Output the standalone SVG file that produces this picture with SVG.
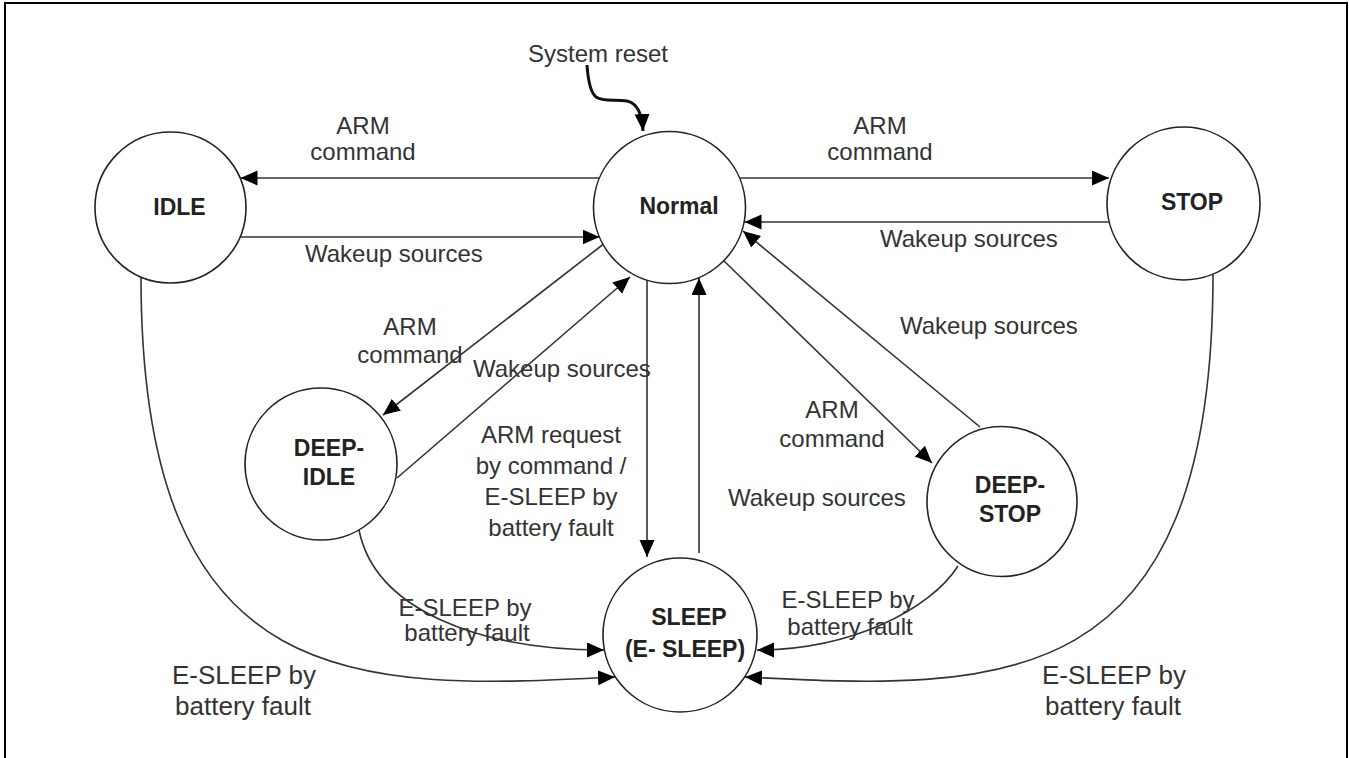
<svg xmlns="http://www.w3.org/2000/svg" width="1349" height="758" viewBox="0 0 1349 758">
  <style>
    .frame { fill: none; stroke: #000; stroke-width: 2; }
    .state { fill: #fff; stroke: #222; stroke-width: 1.6; }
    .name { font-family: "Liberation Sans", Arial, sans-serif; font-weight: bold; font-size: 23px; fill: #222; text-anchor: middle; }
    .lbl { font-family: "Liberation Sans", Arial, sans-serif; font-size: 24px; fill: #333; }
    .lbl-big { font-family: "Liberation Sans", Arial, sans-serif; font-size: 26px; fill: #333; text-anchor: middle; }
    .mid { text-anchor: middle; }
    .edge { fill: none; stroke: #333; stroke-width: 1.6; marker-end: url(#arrow); }
    .edge-plain { fill: none; stroke: #333; stroke-width: 1.6; }
  </style>
  <defs>
    <marker id="arrow" markerUnits="userSpaceOnUse" markerWidth="18" markerHeight="16" refX="17" refY="7.5" orient="auto">
      <path d="M0,0 L17,7.5 L0,15 z" fill="#000"/>
    </marker>
  </defs>

  <rect width="1349" height="758" fill="#fff"/>
  <rect class="frame" x="5" y="3" width="1342" height="800"/>

  <!-- transitions -->
  <g id="connectors">
    <!-- reset entry -->
    <path d="M587,65 C588,80 590,92 596,97 C603,102 615,99 627,101 C637,103 642,112 643,131" fill="none" stroke="#111" stroke-width="3" marker-end="url(#arrow)"/>
    <!-- Normal <-> IDLE -->
    <path class="edge" d="M599.5,178 L240.5,178"/>
    <path class="edge" d="M240.5,237 L599.5,237"/>
    <!-- Normal <-> STOP -->
    <path class="edge" d="M739.5,178 L1109,178"/>
    <path class="edge" d="M1109,222 L744.5,222"/>
    <!-- Normal <-> DEEP-IDLE -->
    <path class="edge" d="M603,244.5 L383,415"/>
    <path class="edge" d="M397,478 L630,277"/>
    <!-- Normal <-> SLEEP -->
    <path class="edge" d="M647,280 L647,557" stroke="#000" stroke-width="2"/>
    <path class="edge" d="M699,553 L699,278" stroke="#555" stroke-width="2"/>
    <!-- Normal <-> DEEP-STOP -->
    <path class="edge" d="M723,260 L932,463"/>
    <path class="edge" d="M980,427 L743,231"/>
    <!-- battery-fault paths into SLEEP -->
    <path class="edge" d="M141,277 C141,700 360,690 615,677"/>
    <path class="edge" d="M1213,274 C1213,700 1000,690 745,677"/>
    <path class="edge" d="M359,530 C375,610 480,650 604,650"/>
    <path class="edge" d="M958,566 C930,610 850,650 757,650"/>
  </g>

  <!-- transition labels -->
  <g id="labels">
    <text class="lbl mid" x="598" y="62">System reset</text>
    <text class="lbl mid" x="363" y="134">ARM</text>
    <text class="lbl mid" x="363" y="160">command</text>
    <text class="lbl" x="305" y="262">Wakeup sources</text>
    <text class="lbl mid" x="880" y="134">ARM</text>
    <text class="lbl mid" x="880" y="160">command</text>
    <text class="lbl" x="880" y="247">Wakeup sources</text>
    <text class="lbl mid" x="410" y="335">ARM</text>
    <text class="lbl mid" x="410" y="363">command</text>
    <text class="lbl" x="473" y="377">Wakeup sources</text>
    <text class="lbl mid" x="551" y="443">ARM request</text>
    <text class="lbl mid" x="551" y="474">by command /</text>
    <text class="lbl mid" x="551" y="505">E-SLEEP by</text>
    <text class="lbl mid" x="551" y="536">battery fault</text>
    <text class="lbl mid" x="832" y="418">ARM</text>
    <text class="lbl mid" x="832" y="447">command</text>
    <text class="lbl" x="900" y="334">Wakeup sources</text>
    <text class="lbl" x="728" y="506">Wakeup sources</text>
    <text class="lbl mid" x="465" y="616">E-SLEEP by</text>
    <text class="lbl mid" x="467" y="641">battery fault</text>
    <text class="lbl mid" x="848" y="608">E-SLEEP by</text>
    <text class="lbl mid" x="850" y="635">battery fault</text>
    <text class="lbl-big" x="244" y="684">E-SLEEP by</text>
    <text class="lbl-big" x="243" y="715">battery fault</text>
    <text class="lbl-big" x="1114" y="684">E-SLEEP by</text>
    <text class="lbl-big" x="1113" y="715">battery fault</text>
  </g>

  <!-- states -->
  <g id="idle">
    <circle class="state" cx="170.5" cy="207.5" r="75.5"/>
    <text class="name" x="179.5" y="215">IDLE</text>
  </g>
  <g id="normal">
    <circle class="state" cx="669.5" cy="207.5" r="76"/>
    <text class="name" x="679" y="214">Normal</text>
  </g>
  <g id="stop">
    <circle class="state" cx="1183.5" cy="203.5" r="76.5"/>
    <text class="name" x="1192" y="210">STOP</text>
  </g>
  <g id="deep-idle">
    <circle class="state" cx="321" cy="464" r="76"/>
    <text class="name" x="329" y="456">DEEP-</text>
    <text class="name" x="329" y="485">IDLE</text>
  </g>
  <g id="deep-stop">
    <circle class="state" cx="1002" cy="501.5" r="75"/>
    <text class="name" x="1010" y="493">DEEP-</text>
    <text class="name" x="1010" y="522">STOP</text>
  </g>
  <g id="sleep">
    <circle class="state" cx="680" cy="635" r="77"/>
    <text class="name" x="689" y="625">SLEEP</text>
    <text class="name" x="685" y="657">(E- SLEEP)</text>
  </g>
</svg>
